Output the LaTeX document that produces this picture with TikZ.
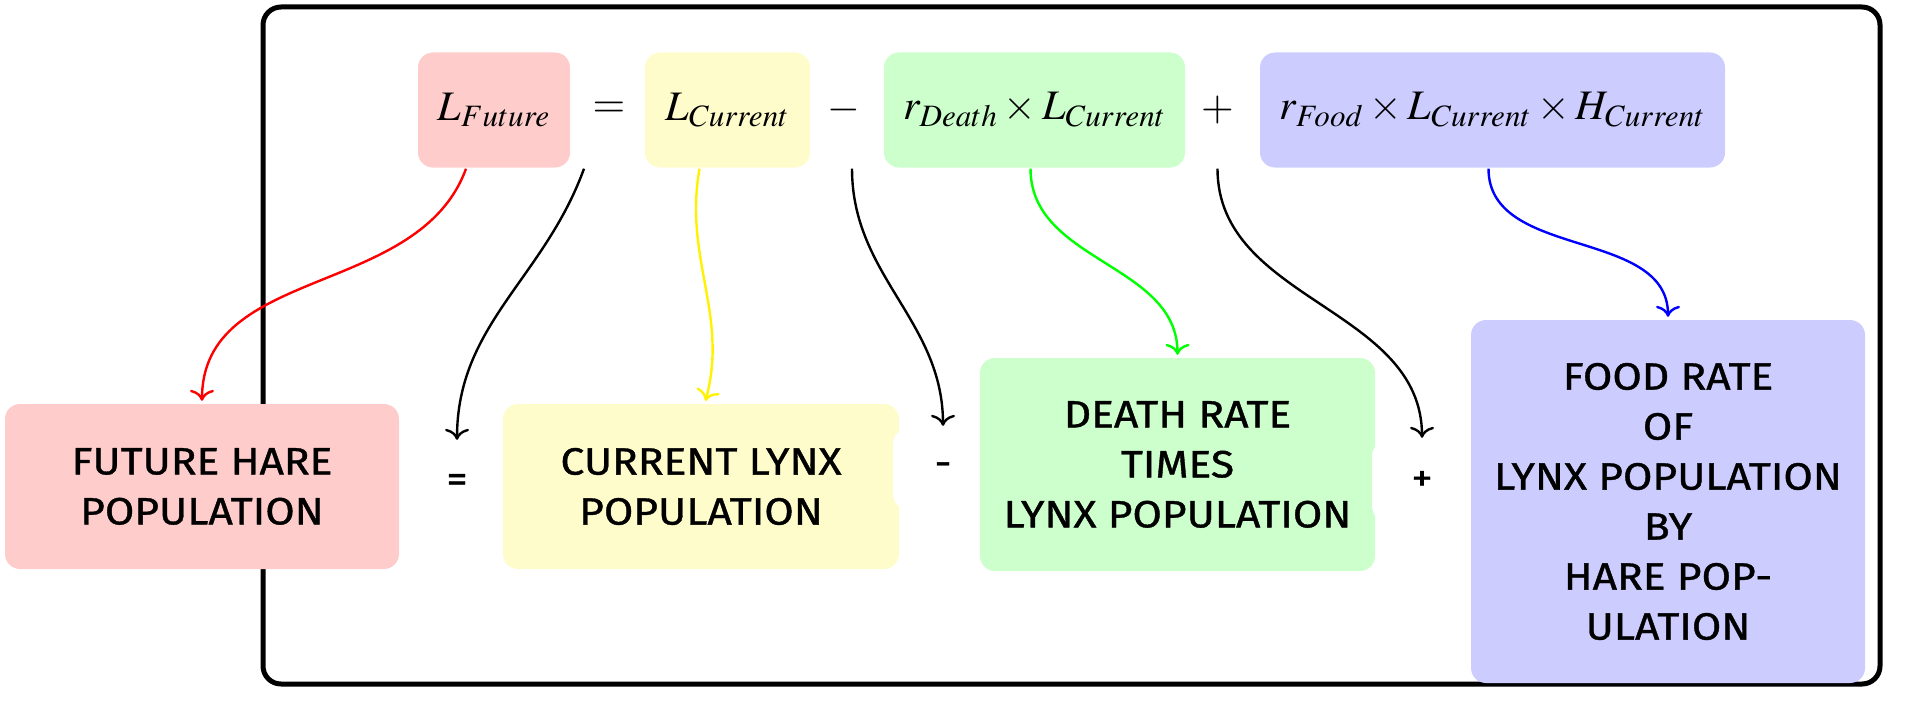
\documentclass[tikz,border=0pt]{standalone}
\usepackage{mathptmx}
\usepackage[no-math]{fontspec}
\setmainfont{Fira Sans}[FakeStretch=1.12, FakeBold=1]
\usepackage{tikz}
\usetikzlibrary{calc,arrows,arrows.meta,shapes,positioning}

\begin{document}
\begin{tikzpicture}[x=0.5pt, y=0.5pt, shorten >=1pt, line width=1.2pt, >={To[length=5.5pt, width=12pt]},
    eqn/.style={rounded corners=7.5pt, inner sep=0pt, minimum height=57.5pt, font=\fontsize{21}{25}\selectfont},
    op/.style={inner sep=0pt, minimum height=57.5pt, font=\fontsize{21}{25}\selectfont},
    word/.style={rounded corners=7.5pt, inner sep=0pt, align=center, font=\fontsize{19}{25}\selectfont},
    wop/.style={fill=white, rounded corners=7.5pt, inner sep=0pt, minimum width=50pt, minimum height=40pt, font=\fontsize{19}{25}\selectfont}]
   \useasboundingbox (0,0) rectangle (1909,714);
   \draw[line width=2.5pt, rounded corners=9pt] (263,30) rectangle (1880,707);

   %equation
   \node[eqn, fill=red!20, minimum width=76pt] (lfut) at (494,604) {$L_{Future}$};
   \node[op] (eqa) at (609,604) {$=$};
   \node[eqn, fill=yellow!20, minimum width=82.5pt] (lcur) at (727.5,604) {$L_{Current}$};
   \node[op] (mina) at (844,604) {$-$};
   \node[eqn, fill=green!20, minimum width=150.5pt] (rdeath) at (1034.5,604) {$r_{Death}\times L_{Current}$};
   \node[op] (plusa) at (1217.5,604) {$+$};
   \node[eqn, fill=blue!20, minimum width=232.5pt] (rfood) at (1492.5,604) {$r_{Food}\times L_{Current}\times H_{Current}$};

   %words
   \node[word, fill=red!20, minimum width=197pt, minimum height=82.5pt] (fh) at (202,227.5) {FUTURE HARE\\POPULATION};
   \node[wop] (eqb) at (457,231) {=};
   \node[word, fill=yellow!20, minimum width=198pt, minimum height=82.5pt] (cl) at (701,227.5) {CURRENT LYNX\\POPULATION};
   \node[wop] (minb) at (943,245) {-};
   \node[word, fill=green!20, minimum width=197.5pt, minimum height=106.5pt] (dr) at (1177.5,249.5) {DEATH RATE\\TIMES\\LYNX POPULATION};
   \node[wop] (plusb) at (1422,233) {+};
   \node[word, fill=blue!20, minimum width=197pt, minimum height=181.5pt] (fr) at (1668,212.5) {FOOD RATE\\OF\\LYNX POPULATION\\BY\\HARE POP-\\ULATION};

  \path[->]
    ([xshift=-14pt]lfut.south) edge [red, out=-110, in=90] (fh.north)
    ([xshift=-12.5pt]eqa.south) edge [out=-110, in=90] (eqb.north)
    ([xshift=-14pt]lcur.south) edge [yellow, out=-100, in=75] ([xshift=2pt]cl.north)
    ([xshift=4pt]mina.south) edge [out=-90, in=90] (minb.north)
    ([xshift=-2pt]rdeath.south) edge [green, out=-90, in=90] (dr.north)
    (plusa.south) edge [out=-90, in=90] (plusb.north)
    ([xshift=-2pt]rfood.south) edge [blue, out=-90, in=90] (fr.north);
\end{tikzpicture}
\end{document}
